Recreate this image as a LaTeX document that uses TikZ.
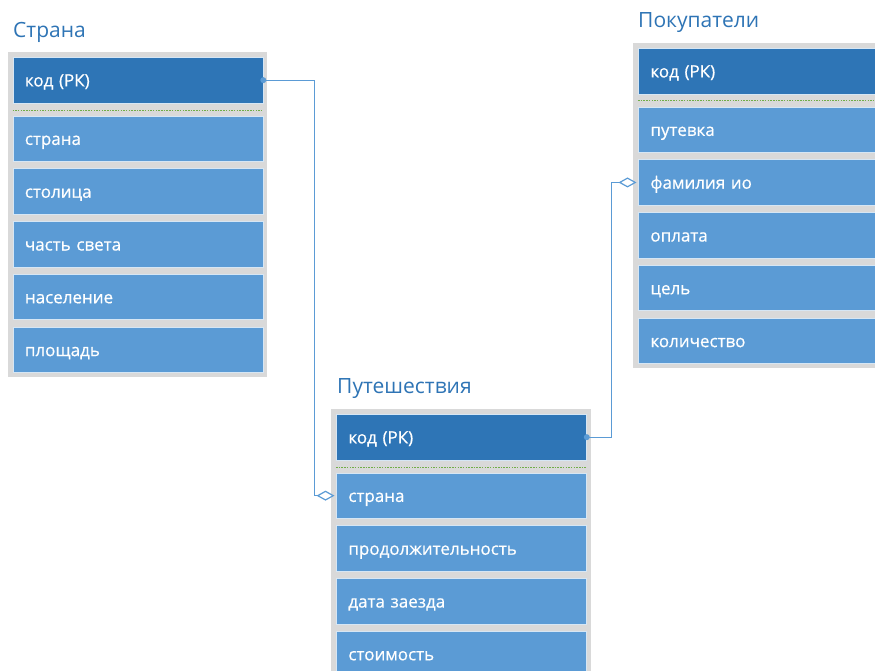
\documentclass[tikz,border=0pt]{standalone}
\usepackage{fontspec}
\setmainfont{Open Sans}
\newfontfamily\fieldfont[FakeBold=0.6]{Open Sans}
\usetikzlibrary{arrows.meta}
\definecolor{keyblue}{HTML}{2E75B6}
\definecolor{rowblue}{HTML}{5B9BD5}
\definecolor{framegray}{HTML}{D9D9D9}
\definecolor{titleblue}{HTML}{2E74B5}
\definecolor{sepgreen}{HTML}{70AD47}
\definecolor{linkblue}{HTML}{5B9BD5}
\tikzset{
  x=1pt, y=-1pt,
  tableframe/.style={fill=framegray, draw=none},
  field/.style={rectangle, anchor=north west, fill=rowblue, draw=white!75!rowblue,
    line width=0.8pt, text width=226pt, align=left, inner xsep=12pt, inner ysep=0pt,
    minimum height=45.5pt, text height=16pt, text depth=3.5pt, text=white,
    font=\fieldfont\fontsize{17}{19}\selectfont},
  keyfield/.style={field, fill=keyblue},
  tabletitle/.style={anchor=base west, inner sep=0pt, text=titleblue,
    font=\fontsize{21}{24}\selectfont},
  separator/.style={sepgreen, dash pattern=on 1.5pt off 1.2pt, line width=1pt},
  link/.style={linkblue, line width=1.2pt,
    -{Diamond[fill=white, length=18pt, width=10pt]}, shorten >=1.5pt},
  linkdot/.style={fill=linkblue}
}
\begin{document}
\begin{tikzpicture}
\useasboundingbox (0,0) rectangle (875,670);
\clip (0,0) rectangle (875,670);

% ---- Страна ----
\node[tabletitle] (s-title) at (13,37) {Страна};
\fill[tableframe] (8,52) rectangle (267,377);
\node[keyfield] (s-key) at (12.5,57) {код (РК)};
\draw[separator] (12.5,110) -- (263,110);
\foreach \t [count=\i from 0] in {страна,столица,часть света,население,площадь}
  \node[field] (s\i) at (12.5,115.5+52.8*\i) {\t};

% ---- Путешествия ----
\node[tabletitle] (t-title) at (337,393) {Путешествия};
\fill[tableframe] (331,409) rectangle (591,700);
\node[keyfield] (t-key) at (336,414) {код (РК)};
\draw[separator] (336,467) -- (586.5,467);
\foreach \t [count=\i from 0] in {страна,продолжительность,дата заезда,стоимость}
  \node[field] (t\i) at (336,472.5+52.8*\i) {\t};

% ---- Покупатели ----
\node[tabletitle] (p-title) at (638,27) {Покупатели};
\fill[tableframe] (633,43) rectangle (895,368);
\node[keyfield] (p-key) at (638,48) {код (РК)};
\draw[separator] (638,100) -- (890,100);
\foreach \t [count=\i from 0] in {путевка,фамилия ио,оплата,цель,количество}
  \node[field] (p\i) at (638,106.5+52.8*\i) {\t};

% ---- relations ----
\draw[link] (s-key.east) -- ++(51,0) |- (t0.west);
\fill[linkdot] (s-key.east) circle (3pt);
\draw[link] (t-key.east) -- ++(25,0) |- (p1.west);
\fill[linkdot] (t-key.east) circle (3pt);
\end{tikzpicture}
\end{document}
